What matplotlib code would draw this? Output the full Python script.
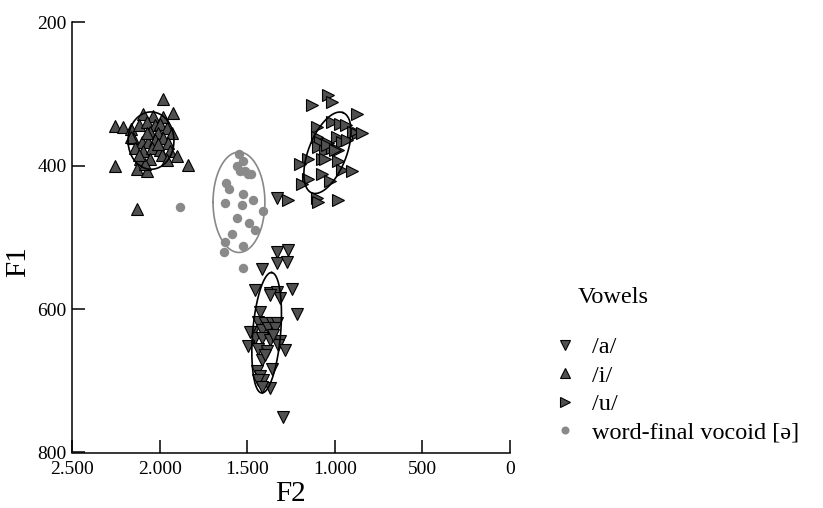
import numpy as np
import matplotlib
matplotlib.use("Agg")
import matplotlib.pyplot as plt
from matplotlib.ticker import FuncFormatter
from matplotlib.lines import Line2D

plt.rcParams['font.family'] = ['Liberation Serif', 'DejaVu Serif']

# ---- data (F2, F1 in Hz) ----
a_F2 = [1332, 1265, 1332, 1332, 1275, 1417, 1456, 1370, 1332, 1313, 1246, 1370, 1218, 1427, 1437,
        1398, 1360, 1332, 1465, 1417, 1380, 1341, 1456, 1417, 1370, 1313, 1494, 1437, 1389, 1323,
        1284, 1417, 1398, 1360, 1446, 1427, 1408, 1437, 1370, 1417, 1294, 1484, 1353]
a_F1 = [445, 518, 521, 536, 534, 544, 574, 578, 576, 585, 572, 580, 607, 604, 618,
        620, 620, 620, 632, 629, 627, 627, 641, 641, 643, 645, 652, 655, 659, 650,
        657, 671, 664, 683, 687, 694, 699, 699, 710, 708, 750, 632, 636]

i_F2 = [2255, 2207, 2165, 2150, 2163, 2093, 2036, 1982, 1982, 1922, 2116, 2074, 2026, 1998, 1960,
        1931, 2055, 2007, 2102, 2065, 2026, 1979, 1950, 2141, 2093, 2045, 1998, 1941, 1903, 2112,
        2055, 1988, 2131, 2074, 2083, 2255, 1836, 2131, 2010, 2070, 2120, 1960]
i_F1 = [344, 346, 349, 362, 360, 328, 331, 307, 332, 326, 343, 339, 343, 342, 348,
        355, 353, 355, 367, 367, 364, 362, 369, 376, 380, 376, 378, 380, 387, 390,
        390, 385, 404, 408, 397, 401, 399, 461, 370, 355, 385, 392]

u_F2 = [1132, 1037, 1018, 875, 1103, 1018, 970, 936, 866, 894, 846, 1103, 1085, 1037, 989,
        961, 932, 1094, 1056, 1018, 980, 1151, 1075, 980, 1199, 961, 904, 1075, 1151, 1189,
        1027, 1103, 980, 1094, 1265, 1046, 999, 1056]
u_F1 = [315, 301, 311, 328, 346, 339, 342, 343, 355, 353, 355, 360, 367, 369, 360,
        367, 364, 374, 380, 376, 378, 390, 390, 394, 397, 406, 408, 411, 418, 425,
        422, 445, 448, 450, 448, 371, 378, 390]

schwa_F2 = [1547, 1522, 1557, 1513, 1480, 1541, 1494, 1621, 1606, 1522, 1465, 1625, 1531, 1408,
            1560, 1488, 1454, 1589, 1625, 1526, 1632, 1522, 1884]
schwa_F1 = [383, 394, 401, 408, 412, 408, 411, 424, 432, 440, 448, 452, 455, 463,
            473, 480, 490, 495, 507, 512, 521, 543, 458]

# ellipses: centre (F2, F1), first semi-axis vector, second semi-axis vector (Hz)
ell_i = [(2049, 365), (131, 0), (0, 40)]
ell_schwa = [(1547, 451), (148, 0), (0, 70)]
ell_u = [(1042, 382), (-89, -56), (-101, 9.6)]
ell_a = [(1389, 633), (-28.5, -84), (-79.6, 1.6)]

labels = ['/a/', '/i/', '/u/', 'word-final vocoid [ə]']
x_ticks = [2500, 2000, 1500, 1000, 500, 0]
y_ticks = [200, 400, 600, 800]

# ---- figure ----
W, H = 823, 508
fig = plt.figure(figsize=(W / 100, H / 100), dpi=100)
ax = fig.add_axes([72 / W, 1 - 452.5 / H, 438 / W, 430.2 / H])

tri_fill = '#505050'
circ_col = '#8a8a8a'
ms = 8

ax.plot(a_F2, a_F1, 'v', ms=ms, mfc=tri_fill, mec='black', mew=0.8, ls='none', zorder=3)
ax.plot(i_F2, i_F1, '^', ms=ms, mfc=tri_fill, mec='black', mew=0.8, ls='none', zorder=3)
ax.plot(u_F2, u_F1, '>', ms=ms, mfc=tri_fill, mec='black', mew=0.8, ls='none', zorder=3)
ax.plot(schwa_F2, schwa_F1, 'o', ms=6.8, mfc=circ_col, mec='none', ls='none', zorder=3)

t = np.linspace(0, 2 * np.pi, 300)
def draw_ell(e, color):
    (c2, c1), (M2, M1), (m2, m1) = e
    ax.plot(c2 + M2 * np.cos(t) + m2 * np.sin(t), c1 + M1 * np.cos(t) + m1 * np.sin(t),
            color=color, lw=1.2, zorder=4)

draw_ell(ell_i, 'black')
draw_ell(ell_u, 'black')
draw_ell(ell_a, 'black')
draw_ell(ell_schwa, '#888888')

ax.set_xlim(2500, 0)
ax.set_ylim(800, 200)
ax.set_xticks(x_ticks)
ax.set_yticks(y_ticks)
fmt = FuncFormatter(lambda v, p: f"{int(round(v)):,}".replace(',', '.'))
ax.xaxis.set_major_formatter(fmt)
ax.tick_params(direction='in', length=9.5, width=1.1, labelsize=14, color='black')
ax.tick_params(axis='x', pad=6)
ax.tick_params(axis='y', pad=4)
for s in ['top', 'right']:
    ax.spines[s].set_visible(False)
for s in ['left', 'bottom']:
    ax.spines[s].set_linewidth(1.1)

ax.set_xlabel('F2', fontsize=21)
ax.set_ylabel('F1', fontsize=21)
ax.xaxis.set_label_coords((290 - 72) / 438, (452.5 - 481) / 430.2)
ax.yaxis.set_label_coords((31 - 72) / 438, (452.5 - 262) / 430.2)

# legend
handles = [
    Line2D([], [], marker='v', ls='none', ms=ms, mfc=tri_fill, mec='black', mew=0.8),
    Line2D([], [], marker='^', ls='none', ms=ms, mfc=tri_fill, mec='black', mew=0.8),
    Line2D([], [], marker='>', ls='none', ms=ms, mfc=tri_fill, mec='black', mew=0.8),
    Line2D([], [], marker='o', ls='none', ms=6.8, mfc=circ_col, mec='none'),
]
fig.legend(handles, labels, loc='upper left', bbox_to_anchor=(553 / W, 1 - 336 / H),
           frameon=False, fontsize=17.5, handlelength=1.0, handletextpad=0.6,
           labelspacing=0.27, borderpad=0, borderaxespad=0, markerscale=0.85)
fig.text(578 / W, 1 - 302.7 / H, 'Vowels', fontsize=17.5, va='baseline', ha='left')

fig.savefig('out.png', dpi=100)
